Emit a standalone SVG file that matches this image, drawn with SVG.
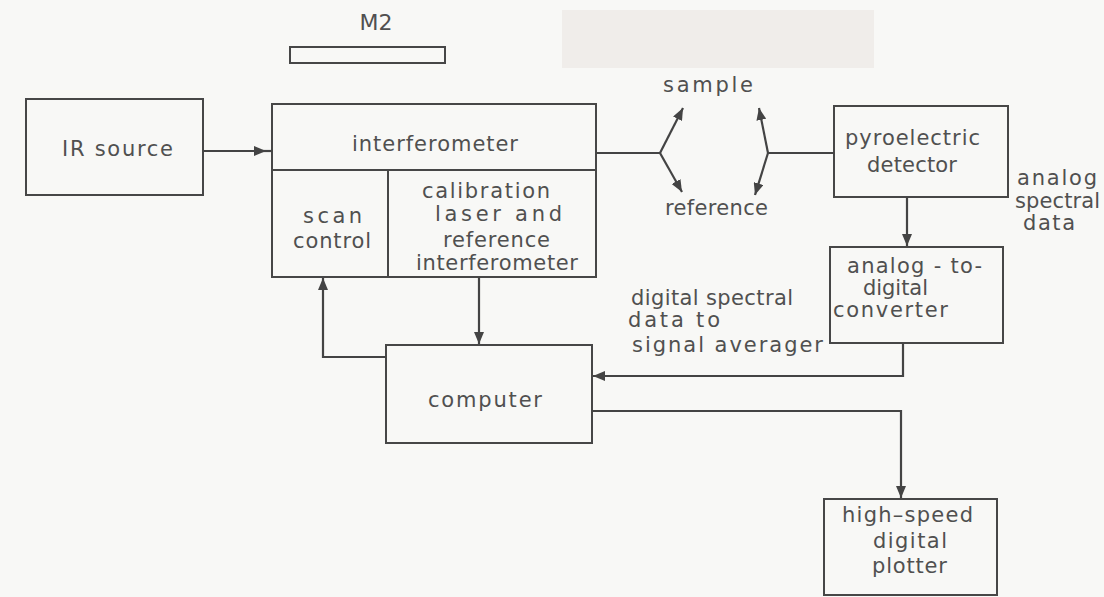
<svg xmlns="http://www.w3.org/2000/svg" width="1104" height="597" viewBox="0 0 1104 597">
<defs>
<style>
.box{fill:none;stroke:#474747;stroke-width:2}
.ln{fill:none;stroke:#444;stroke-width:2.2}
.arr{fill:none;stroke:#444;stroke-width:2.2;marker-end:url(#ah)}
text{font-family:"DejaVu Sans","Liberation Sans",sans-serif;font-size:21px;fill:#505050}
</style>
<marker id="ah" viewBox="0 0 12 10" refX="12" refY="5" markerWidth="12" markerHeight="10" markerUnits="userSpaceOnUse" orient="auto">
<path d="M0,0 L12,5 L0,10 z" fill="#444"/>
</marker>
</defs>
<rect x="0" y="0" width="1104" height="597" fill="#f8f8f6"/>
<rect x="562" y="10" width="312" height="58" fill="#f0edea"/>

<g id="m2">
<text x="376" y="30" text-anchor="middle" font-size="16" textLength="33" lengthAdjust="spacingAndGlyphs">M2</text>
<rect class="box" x="290" y="47" width="155" height="16"/>
</g>

<g id="ir-source">
<rect class="box" x="26" y="99" width="177" height="96"/>
<text x="62" y="156" textLength="111" lengthAdjust="spacing">IR source</text>
</g>

<g id="interferometer">
<rect class="box" x="272" y="104" width="324" height="173"/>
<line class="box" x1="272" y1="170" x2="596" y2="170"/>
<text x="352" y="151" textLength="166" lengthAdjust="spacing">interferometer</text>
</g>

<g id="scan-control">
<line class="box" x1="388" y1="170" x2="388" y2="277"/>
<text x="303" y="223" textLength="59" lengthAdjust="spacing">scan</text>
<text x="293" y="248" textLength="78" lengthAdjust="spacing">control</text>
</g>

<g id="calibration">
<text x="422" y="198" textLength="128" lengthAdjust="spacing">calibration</text>
<text x="435" y="221" textLength="127" lengthAdjust="spacing">laser and</text>
<text x="443" y="247" textLength="107" lengthAdjust="spacing">reference</text>
<text x="416" y="270" textLength="162" lengthAdjust="spacing">interferometer</text>
</g>

<g id="detector">
<rect class="box" x="834" y="106" width="174" height="91"/>
<text x="845" y="145" textLength="135" lengthAdjust="spacing">pyroelectric</text>
<text x="867" y="172" textLength="90" lengthAdjust="spacing">detector</text>
</g>

<g id="adc">
<rect class="box" x="830" y="247" width="173" height="96"/>
<text x="847" y="273" textLength="135" lengthAdjust="spacing">analog - to-</text>
<text x="863" y="295" textLength="65" lengthAdjust="spacing">digital</text>
<text x="833" y="317" textLength="115" lengthAdjust="spacing">converter</text>
</g>

<g id="computer">
<rect class="box" x="386" y="345" width="206" height="98"/>
<text x="428" y="407" textLength="114" lengthAdjust="spacing">computer</text>
</g>

<g id="plotter">
<rect class="box" x="824" y="499" width="173" height="96"/>
<text x="842" y="522" textLength="131" lengthAdjust="spacing">high–speed</text>
<text x="873" y="548" textLength="74" lengthAdjust="spacing">digital</text>
<text x="872" y="573" textLength="75" lengthAdjust="spacing">plotter</text>
</g>

<g id="labels">
<text x="663" y="92" textLength="90" lengthAdjust="spacing">sample</text>
<text x="665" y="215" textLength="103" lengthAdjust="spacing">reference</text>
<text x="1017" y="185" textLength="80" lengthAdjust="spacing">analog</text>
<text x="1015" y="208" textLength="85" lengthAdjust="spacing">spectral</text>
<text x="1023" y="230" textLength="52" lengthAdjust="spacing">data</text>
<text x="631" y="305" textLength="162" lengthAdjust="spacing">digital spectral</text>
<text x="628" y="327" textLength="92" lengthAdjust="spacing">data  to</text>
<text x="632" y="352" textLength="191" lengthAdjust="spacing">signal  averager</text>
</g>

<g id="connectors">
<path class="arr" d="M203,151 H266"/>
<path class="ln" d="M262,151 H272"/>
<path class="ln" d="M596,153 H660"/>
<path class="arr" d="M660,153 L683,108"/>
<path class="arr" d="M660,153 L682,192"/>
<path class="ln" d="M834,153 H768"/>
<path class="arr" d="M768,153 L759,108"/>
<path class="arr" d="M768,153 L755,195"/>
<path class="arr" d="M907,197 V246"/>
<path class="arr" d="M479,277 V344"/>
<path class="arr" d="M386,357 H323 V278"/>
<path class="arr" d="M903,343 V376 H593"/>
<path class="arr" d="M592,411 H901 V498"/>
</g>
</svg>
